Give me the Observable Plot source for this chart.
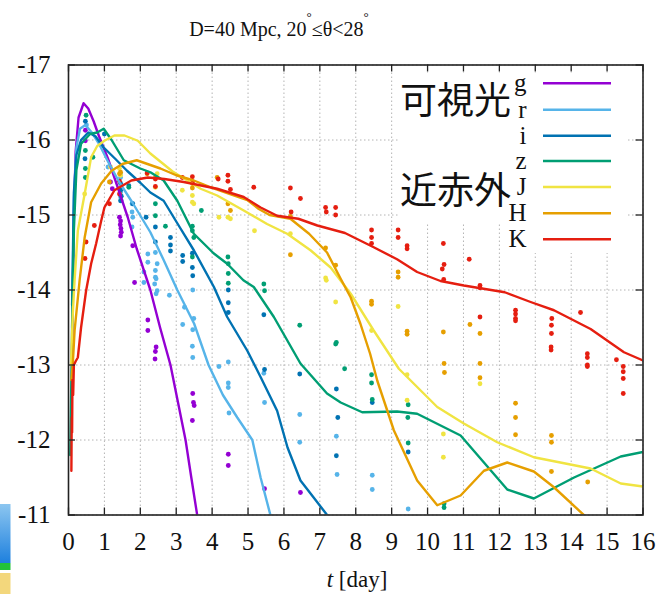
<!DOCTYPE html>
<html>
<head>
<meta charset="utf-8">
<script src="https://cdn.jsdelivr.net/npm/d3@7"></script>
<script src="https://cdn.jsdelivr.net/npm/@observablehq/plot@0.6"></script>
<style>
  html, body { margin: 0; padding: 0; background: #fff; }
  #chart svg { display: block; }
</style>
</head>
<body>
<div id="chart"></div>
<script>
// Kilonova light curves: model (lines) and observed photometry (dots), absolute mag vs days.
const bands = ["g", "r", "i", "z", "J", "H", "K"];
const bandColors = ["#9400d3", "#56b4e9", "#0072b2", "#009e73", "#f0e442", "#e69f00", "#e51e10"];
const xTicks = [0, 1, 2, 3, 4, 5, 6, 7, 8, 9, 10, 11, 12, 13, 14, 15, 16];
const yTicks = [-17, -16, -15, -14, -13, -12, -11];

// model curves [t (day), absolute magnitude]
const gModel = [[0.1,-13.2],[0.15,-15.0],[0.2,-15.85],[0.28,-16.3],[0.42,-16.49],[0.55,-16.42],[0.7,-16.25],[0.85,-16.05],[1.1,-15.75],[1.37,-15.37],[1.65,-14.97],[1.9,-14.55],[2.28,-14.0],[2.55,-13.5],[2.84,-13.0],[3.05,-12.5],[3.26,-12.0],[3.42,-11.5],[3.6,-10.95]];
const rModel = [[0.1,-13.5],[0.15,-15.2],[0.22,-15.9],[0.32,-16.15],[0.47,-16.2],[0.65,-16.1],[0.85,-15.95],[1.08,-15.73],[1.4,-15.45],[1.8,-15.15],[2.28,-14.77],[2.65,-14.4],[3.03,-14.0],[3.5,-13.55],[3.9,-13.0],[4.3,-12.6],[4.7,-12.3],[5.12,-12.0],[5.35,-11.5],[5.65,-10.95]];
const iModel = [[0.1,-13.8],[0.15,-15.3],[0.22,-15.8],[0.35,-16.0],[0.55,-16.1],[0.75,-16.05],[0.98,-15.9],[1.3,-15.75],[1.63,-15.59],[2.0,-15.43],[2.28,-15.3],[2.65,-15.19],[3.03,-14.89],[3.49,-14.53],[4.05,-14.04],[4.42,-13.64],[4.98,-13.19],[5.35,-12.84],[5.81,-12.39],[6.1,-11.9],[6.46,-11.46],[6.8,-11.25],[7.25,-10.97]];
const zModel = [[0.05,-11.8],[0.1,-13.5],[0.15,-14.8],[0.22,-15.6],[0.35,-15.95],[0.6,-16.08],[0.8,-16.1],[0.98,-16.15],[1.2,-16.0],[1.54,-15.73],[2.0,-15.62],[2.28,-15.57],[2.65,-15.46],[3.03,-15.19],[3.49,-14.75],[4.04,-14.49],[4.42,-14.35],[4.87,-14.13],[5.16,-14.04],[5.72,-13.64],[6.46,-13.02],[7.2,-12.62],[7.58,-12.5],[8.18,-12.37],[9.15,-12.38],[9.71,-12.35],[10.92,-12.06],[12.22,-11.34],[12.96,-11.22],[14.08,-11.5],[15.38,-11.78],[16,-11.84]];
const JModel = [[0.07,-13.0],[0.12,-13.69],[0.17,-14.13],[0.26,-14.79],[0.45,-15.28],[0.63,-15.77],[0.8,-15.92],[1.0,-15.99],[1.28,-16.06],[1.56,-16.06],[1.93,-15.99],[2.28,-15.82],[2.9,-15.58],[3.68,-15.35],[4.14,-15.26],[4.88,-15.06],[5.53,-14.88],[6.09,-14.75],[6.74,-14.53],[7.3,-14.3],[7.86,-13.95],[8.5,-13.46],[9.2,-12.95],[10.27,-12.44],[11.01,-12.22],[11.94,-11.97],[12.96,-11.77],[14.54,-11.62],[15.38,-11.42],[16,-11.38]];
const HModel = [[0.08,-12.8],[0.12,-13.02],[0.17,-13.46],[0.31,-14.13],[0.45,-14.7],[0.63,-15.17],[0.91,-15.42],[1.2,-15.59],[1.5,-15.68],[1.9,-15.73],[2.2,-15.68],[2.56,-15.62],[3.0,-15.53],[3.49,-15.46],[3.96,-15.37],[4.5,-15.28],[4.98,-15.2],[5.3,-15.08],[5.6,-15.0],[6.18,-14.95],[6.7,-14.75],[7.2,-14.5],[7.58,-14.15],[7.86,-13.9],[8.13,-13.55],[8.4,-13.15],[8.6,-12.79],[9.06,-12.13],[9.71,-11.46],[10.27,-11.13],[10.92,-11.26],[11.57,-11.59],[12.22,-11.7],[12.96,-11.58],[13.52,-11.37],[14.42,-10.97]];
const KModel = [[0.08,-11.59],[0.09,-12.3],[0.1,-12.1],[0.11,-12.8],[0.13,-12.6],[0.15,-13.0],[0.2,-13.05],[0.26,-13.1],[0.35,-13.5],[0.49,-13.99],[0.63,-14.35],[0.77,-14.62],[0.9,-14.9],[1.0,-15.1],[1.28,-15.33],[1.75,-15.46],[2.21,-15.5],[2.67,-15.48],[3.21,-15.44],[4.14,-15.35],[4.88,-15.24],[5.35,-15.1],[5.81,-14.99],[6.4,-14.95],[6.93,-14.86],[7.7,-14.76],[8.5,-14.57],[9.15,-14.41],[9.71,-14.24],[10.36,-14.12],[11.01,-14.06],[12.15,-13.97],[12.87,-13.84],[13.52,-13.73],[14.54,-13.48],[15.47,-13.17],[16,-13.06]];

// observed photometry [t (day), absolute magnitude]
const gObs = [[0.47,-16.13],[0.47,-15.99],[1.17,-15.44],[1.22,-15.35],[1.42,-14.97],[1.45,-14.92],[1.44,-14.87],[1.46,-14.82],[1.47,-14.77],[1.45,-14.72],[1.79,-14.59],[1.84,-14.1],[2.21,-13.6],[2.21,-13.46],[2.44,-13.24],[2.42,-13.18],[2.41,-13.08],[3.46,-12.62],[3.48,-12.5],[3.5,-12.46],[3.45,-12.26],[4.45,-11.81],[4.45,-11.66],[5.46,-11.35],[6.46,-11.3]];
const rObs = [[0.5,-16.2],[1.1,-15.64],[1.45,-15.55],[1.45,-15.5],[1.45,-15.3],[1.45,-15.24],[1.47,-15.19],[1.77,-15.15],[1.77,-15.04],[1.79,-14.97],[1.77,-14.84],[2.1,-14.24],[2.1,-14.1],[2.21,-14.48],[2.21,-14.37],[2.42,-14.5],[2.47,-14.35],[2.42,-14.26],[2.42,-14.17],[2.44,-14.15],[2.4,-14.08],[2.47,-13.99],[2.44,-13.95],[2.81,-13.93],[3.23,-13.77],[3.18,-13.54],[3.46,-14.0],[3.49,-13.62],[3.46,-13.47],[3.45,-13.25],[3.46,-13.1],[4.19,-12.98],[4.45,-13.04],[4.45,-12.76],[4.45,-12.7],[4.47,-12.36],[5.44,-12.89],[5.46,-12.5],[6.44,-12.34],[6.44,-11.97],[7.46,-12.05],[7.48,-11.54],[8.46,-11.53],[8.46,-11.34],[9.46,-11.08]];
const iObs = [[0.47,-16.25],[0.46,-15.75],[1.0,-16.08],[1.45,-15.42],[1.45,-15.33],[1.47,-15.25],[1.45,-15.19],[1.68,-15.39],[1.79,-15.15],[2.16,-14.97],[2.42,-14.84],[2.42,-14.64],[2.84,-14.7],[2.84,-14.6],[2.84,-14.52],[3.18,-14.46],[3.18,-14.38],[3.45,-14.49],[3.45,-14.3],[3.46,-14.19],[4.45,-14.0],[4.45,-13.83],[4.45,-13.7],[5.44,-13.67],[5.46,-12.94],[6.44,-12.88],[7.46,-12.68],[7.5,-12.3],[7.46,-11.79],[8.46,-12.5],[9.46,-11.84]];
const zObs = [[0.49,-16.33],[0.47,-15.86],[0.47,-15.62],[0.47,-15.5],[0.68,-15.77],[1.68,-15.37],[2.42,-15.15],[2.42,-14.99],[2.7,-14.85],[3.45,-14.85],[3.45,-14.79],[3.49,-14.7],[3.7,-15.06],[3.45,-14.44],[4.44,-14.44],[4.45,-14.35],[4.45,-14.22],[4.45,-14.09],[5.44,-14.08],[5.46,-13.99],[6.44,-13.53],[7.44,-13.28],[7.46,-13.3],[7.69,-12.95],[8.44,-12.87],[8.44,-12.76],[8.46,-12.54],[9.46,-12.47],[9.45,-12.3],[9.46,-11.96],[10.46,-11.15],[10.46,-11.1]];
const JObs = [[0.45,-15.28],[1.17,-15.64],[1.42,-15.62],[1.45,-15.53],[2.47,-15.55],[2.42,-15.37],[3.17,-15.33],[3.45,-15.26],[3.45,-15.17],[3.49,-15.15],[4.19,-14.97],[4.44,-14.97],[4.51,-14.95],[5.18,-14.79],[6.18,-14.75],[7.16,-14.16],[7.18,-14.13],[7.44,-13.84],[8.44,-13.46],[9.18,-13.78],[9.43,-12.87],[9.43,-12.53],[10.44,-12.08],[10.44,-11.77],[11.46,-12.75]];
const HObs = [[1.14,-15.44],[1.42,-15.55],[1.45,-15.57],[2.19,-15.55],[2.42,-15.5],[3.45,-15.42],[3.45,-15.36],[4.14,-15.5],[4.44,-15.15],[4.51,-15.06],[6.18,-14.98],[6.18,-14.47],[7.16,-14.56],[7.44,-14.33],[8.44,-13.85],[8.44,-13.81],[9.18,-14.24],[9.18,-14.17],[9.43,-13.45],[9.43,-13.41],[10.44,-13.44],[10.46,-13.02],[10.47,-12.9],[11.18,-13.54],[11.46,-13.42],[11.46,-13.02],[11.46,-12.83],[12.45,-12.49],[12.45,-12.3],[12.45,-12.07],[13.45,-12.06],[13.45,-11.97],[13.45,-11.58],[14.46,-11.44]];
const KObs = [[0.46,-14.42],[0.49,-14.64],[0.72,-14.86],[1.14,-15.15],[1.42,-15.45],[1.42,-15.28],[2.19,-15.56],[2.42,-15.48],[2.42,-15.38],[3.17,-15.5],[3.45,-15.51],[3.45,-15.44],[4.17,-15.48],[4.44,-15.53],[4.44,-15.45],[4.51,-15.34],[5.16,-15.37],[6.18,-15.36],[6.46,-15.22],[6.2,-15.04],[7.16,-15.1],[7.18,-15.04],[7.44,-15.1],[7.44,-15.0],[8.44,-14.8],[8.44,-14.7],[8.44,-14.62],[9.18,-14.8],[9.18,-14.7],[9.43,-14.59],[9.43,-14.55],[10.44,-14.62],[10.46,-14.34],[10.41,-14.28],[10.45,-14.14],[11.16,-14.41],[11.46,-14.06],[11.46,-14.03],[11.46,-13.64],[12.45,-13.73],[12.45,-13.68],[12.45,-13.62],[12.45,-13.59],[13.46,-13.62],[13.45,-13.53],[13.45,-13.42],[13.44,-13.24],[13.44,-13.2],[14.26,-13.7],[14.45,-13.15],[14.45,-13.1],[14.45,-13.0],[14.45,-12.98],[15.26,-13.07],[15.45,-12.98],[15.45,-12.91],[15.45,-12.82],[15.45,-12.62]];

const models = [gModel, rModel, iModel, zModel, JModel, HModel, KModel];
const observations = [gObs, rObs, iObs, zObs, JObs, HObs, KObs];

const modelRows = models.flatMap((pts, k) => pts.map(([t, mag]) => ({band: bands[k], t, mag})));
const obsRows = observations.flatMap((pts, k) => pts.map(([t, mag]) => ({band: bands[k], t, mag})));

const W = 658, H = 594;
const mTop = 64.5, mBottom = 79.5, mLeft = 68, mRight = 15.5;
const innerW = W - mLeft - mRight, innerH = H - mTop - mBottom;
const tickLen = 7;
const serif = "'Liberation Serif', 'DejaVu Serif', serif";

const chart = Plot.plot({
  width: W,
  height: H,
  marginTop: mTop,
  marginBottom: mBottom,
  marginLeft: mLeft,
  marginRight: mRight,
  style: {fontFamily: serif, background: "#fff", color: "#111"},
  x: {domain: [0, 16]},
  y: {domain: [-11, -17]},
  color: {domain: bands, range: bandColors},
  marks: [
    Plot.gridX(xTicks, {stroke: "#b4b4b4", strokeOpacity: 1, strokeDasharray: "1.5,2.5"}),
    Plot.gridY(yTicks, {stroke: "#b4b4b4", strokeOpacity: 1, strokeDasharray: "1.5,2.5"}),
    Plot.dot(obsRows, {x: "t", y: "mag", fill: "band", r: 2.4, stroke: "none", clip: true}),
    Plot.line(modelRows, {x: "t", y: "mag", z: "band", stroke: "band", strokeWidth: 2.4, curve: "linear", clip: true}),
    // inward ticks on all four sides
    Plot.tickX(xTicks, {x: d => d, insetTop: innerH - tickLen, stroke: "#222", strokeWidth: 1.3}),
    Plot.tickX(xTicks, {x: d => d, insetBottom: innerH - tickLen, stroke: "#222", strokeWidth: 1.3}),
    Plot.tickY(yTicks, {y: d => d, insetRight: innerW - tickLen, stroke: "#222", strokeWidth: 1.3}),
    Plot.tickY(yTicks, {y: d => d, insetLeft: innerW - tickLen, stroke: "#222", strokeWidth: 1.3}),
    Plot.frame({stroke: "#222", strokeWidth: 1.6}),
    Plot.axisX({ticks: xTicks, tickSize: 0, tickPadding: 17, fontSize: 25, label: null, tickFormat: d => String(d)}),
    Plot.axisY({ticks: yTicks, tickSize: 0, tickPadding: 18, fontSize: 25, label: null, tickFormat: d => String(d)})
  ]
});

document.getElementById("chart").appendChild(chart);

const svg = d3.select(chart);

// title
const title = svg.append("text")
  .attr("x", 279).attr("y", 36)
  .attr("text-anchor", "middle")
  .attr("font-family", serif)
  .attr("font-size", 20)
  .attr("fill", "#111");
title.append("tspan").text("D=40 Mpc, 20");
title.append("tspan").attr("dy", -15).attr("font-size", 13).text("°");
title.append("tspan").attr("dy", 15).text("≤θ<28");
title.append("tspan").attr("dy", -15).attr("font-size", 13).text("°");

// x axis label
const xl = svg.append("text")
  .attr("x", 357).attr("y", 587)
  .attr("text-anchor", "middle")
  .attr("font-family", serif)
  .attr("font-size", 23)
  .attr("fill", "#111");
xl.append("tspan").attr("font-style", "italic").text("t");
xl.append("tspan").text(" [day]");

// opaque backgrounds for the key and the group labels
svg.append("rect").attr("x", 398).attr("y", 73).attr("width", 230).attr("height", 150).attr("fill", "#fff");
svg.append("rect").attr("x", 505).attr("y", 73).attr("width", 123).attr("height", 180).attr("fill", "#fff");

// key
const keyY = [83.3, 109.7, 135.7, 161, 187, 213.3, 239.3];
const key = svg.append("g");
bands.forEach((b, k) => {
  key.append("text")
    .attr("x", 526.5).attr("y", keyY[k] + 8)
    .attr("text-anchor", "end")
    .attr("font-family", serif)
    .attr("font-size", 25)
    .attr("fill", "#111")
    .text(b);
  key.append("line")
    .attr("x1", 543).attr("x2", 611)
    .attr("y1", keyY[k]).attr("y2", keyY[k])
    .attr("stroke", bandColors[k])
    .attr("stroke-width", 2.4);
});

// group labels: optical / near-infrared
const cjk = "'Noto Sans CJK JP', 'Noto Sans CJK SC', sans-serif";
svg.append("text").attr("x", 400).attr("y", 114).attr("text-anchor", "start").attr("font-family", cjk).attr("font-size", 37).attr("fill", "#111").text("可視光");
svg.append("text").attr("x", 400).attr("y", 204).attr("text-anchor", "start").attr("font-family", cjk).attr("font-size", 37).attr("fill", "#111").text("近赤外");

// edge of the neighbouring panel at the lower left
const defs = svg.append("defs");
const grad = defs.append("linearGradient").attr("id", "edgeBlue").attr("x1", 0).attr("x2", 0).attr("y1", 0).attr("y2", 1);
grad.append("stop").attr("offset", 0).attr("stop-color", "#8cc6f0");
grad.append("stop").attr("offset", 1).attr("stop-color", "#1e80de");
svg.append("rect").attr("x", 0).attr("y", 504).attr("width", 10.5).attr("height", 59).attr("fill", "url(#edgeBlue)");
svg.append("rect").attr("x", 0).attr("y", 563).attr("width", 10.5).attr("height", 7).attr("fill", "#22c23a");
svg.append("rect").attr("x", 0).attr("y", 573).attr("width", 10.5).attr("height", 21).attr("fill", "#f3d77c");
</script>
</body>
</html>
